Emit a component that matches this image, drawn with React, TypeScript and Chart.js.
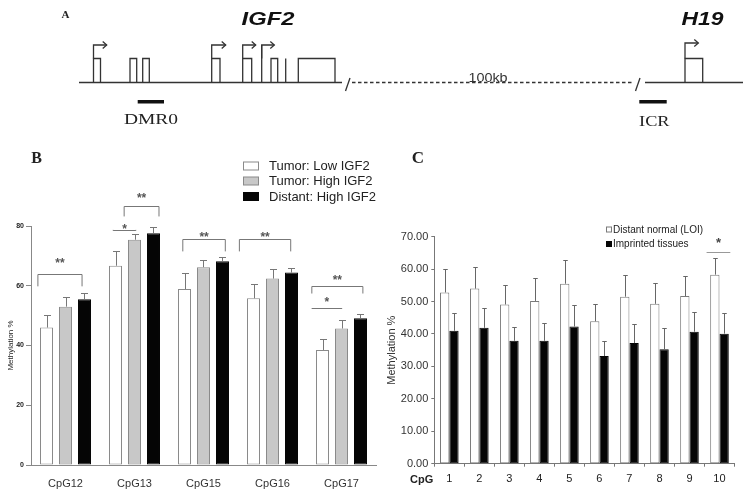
import React, { useEffect, useRef } from 'react';
import { Chart, registerables } from 'chart.js';
Chart.register(...registerables);

const SANS = 'Arial, "Liberation Sans", Helvetica, sans-serif';
const SERIF = '"Times New Roman", "Liberation Serif", serif';

// ---------- Panel B data ----------
const B_CATEGORIES = ['CpG12', 'CpG13', 'CpG15', 'CpG16', 'CpG17'];
const B_SERIES = ['Tumor: Low IGF2', 'Tumor: High IGF2', 'Distant: High IGF2'];
const B_LOW = [46.0, 66.7, 58.9, 55.8, 38.5];
const B_LOW_ERR = [4.3, 5.0, 5.3, 4.7, 3.6];
const B_HIGH = [53.0, 75.4, 66.2, 62.4, 45.7];
const B_HIGH_ERR = [3.3, 1.9, 2.3, 3.1, 2.7];
const B_DISTANT = [55.5, 77.6, 68.2, 64.4, 49.1];
const B_DISTANT_ERR = [2.2, 2.0, 1.5, 1.6, 1.5];
const B_Y_TICKS = [0, 20, 40, 60, 80];
// significance marks: category index, span (in category units), bracket top, leg end, label, label level
const B_SIG_CAT = [0, 1, 1, 2, 3, 4, 4];
const B_SIG_FROM = [-0.4, -0.31, -0.15, -0.3, -0.48, -0.43, -0.43];
const B_SIG_TO = [0.24, 0.02, 0.355, 0.316, 0.264, 0.31, 0.007];
const B_SIG_TOP = [63.9, 78.7, 86.8, 75.6, 75.6, 60.0, 52.5];
const B_SIG_LEG = [59.8, 78.7, 83.2, 71.5, 71.5, 57.4, 52.5];
const B_SIG_LABEL = ['**', '*', '**', '**', '**', '**', '*'];
const B_SIG_LABEL_Y = [68.5, 80.0, 90.2, 77.2, 77.2, 62.8, 55.4];

// ---------- Panel C data ----------
const C_CATEGORIES = ['1', '2', '3', '4', '5', '6', '7', '8', '9', '10'];
const C_SERIES = ['Distant normal (LOI)', 'Imprinted tissues'];
const C_LOI = [52.8, 54.0, 49.1, 50.2, 55.5, 43.9, 51.5, 49.3, 51.7, 58.3];
const C_LOI_ERR = [7.1, 6.7, 6.1, 7.1, 7.4, 5.5, 6.6, 6.3, 6.2, 5.0];
const C_IMPRINTED = [41.0, 41.9, 37.9, 37.9, 42.3, 33.2, 37.2, 35.3, 40.7, 40.1];
const C_IMPRINTED_ERR = [5.4, 6.2, 4.3, 5.6, 6.5, 4.5, 6.0, 6.4, 6.2, 6.5];
const C_Y_TICKS = [0, 10, 20, 30, 40, 50, 60, 70];
const C_SIG_CAT = [9];
const C_SIG_FROM = [-0.43];
const C_SIG_TO = [0.36];
const C_SIG_TOP = [65.4];
const C_SIG_LABEL = ['*'];
const C_SIG_LABEL_Y = [69.0];

function stretchedText(ctx: CanvasRenderingContext2D, text: string, cx: number, baseline: number, font: string, sx: number, color: string, align: CanvasTextAlign = 'center') {
  ctx.save();
  ctx.font = font;
  ctx.fillStyle = color;
  ctx.textAlign = align;
  ctx.textBaseline = 'alphabetic';
  ctx.translate(cx, baseline);
  ctx.scale(sx, 1);
  ctx.fillText(text, 0, 0);
  ctx.restore();
}

function drawDiagram(ctx: CanvasRenderingContext2D) {
  ctx.save();
  ctx.strokeStyle = '#333';
  ctx.lineWidth = 1.3;
  const base = 82.5, exTop = 58.5;
  const line = (x1: number, y1: number, x2: number, y2: number) => {
    ctx.beginPath(); ctx.moveTo(x1, y1); ctx.lineTo(x2, y2); ctx.stroke();
  };
  line(79, base, 342, base);
  line(345.5, 91, 350, 78);
  ctx.setLineDash([3.5, 2.5]);
  line(352, base, 633, base);
  ctx.setLineDash([]);
  line(635.5, 91, 640, 78);
  line(645, base, 743, base);
  const exons = [[93.5, 100.5], [130, 136.7], [142.7, 149.3], [211.7, 220], [242.7, 251.7], [271, 277.7], [298.3, 335], [685, 702.7]];
  exons.forEach(([a, b]) => {
    ctx.beginPath(); ctx.moveTo(a, base); ctx.lineTo(a, exTop); ctx.lineTo(b, exTop); ctx.lineTo(b, base); ctx.stroke();
  });
  line(285.7, exTop, 285.7, base);
  line(261.7, base, 261.7, 45);
  const arrows = [[93.5, 106.7, 45], [211.7, 225.7, 45], [242.7, 255.7, 45], [261.7, 274.3, 45], [685, 698.3, 43]];
  arrows.forEach(([x0, x1, y]) => {
    ctx.beginPath(); ctx.moveTo(x0, exTop); ctx.lineTo(x0, y); ctx.lineTo(x1, y); ctx.stroke();
    ctx.beginPath(); ctx.moveTo(x1 - 4, y - 3.5); ctx.lineTo(x1, y); ctx.lineTo(x1 - 4, y + 3.5); ctx.stroke();
  });
  ctx.fillStyle = '#111';
  ctx.fillRect(137.7, 100, 26.3, 3.5);
  ctx.fillRect(639.3, 100, 27.4, 3.5);
  ctx.restore();
  stretchedText(ctx, 'A', 61.5, 17.5, `bold 11px ${SERIF}`, 1, '#222', 'left');
  stretchedText(ctx, 'IGF2', 268, 25, `italic bold 19px ${SANS}`, 1.25, '#111');
  stretchedText(ctx, 'H19', 702.5, 25, `italic bold 19px ${SANS}`, 1.2, '#111');
  stretchedText(ctx, '100kb', 488, 81.5, `12px ${SANS}`, 1.2, '#333');
  stretchedText(ctx, 'DMR0', 151, 124, `15px ${SERIF}`, 1.3, '#222');
  stretchedText(ctx, 'ICR', 654.3, 125.5, `15px ${SERIF}`, 1.22, '#222');
}

const errorBarPlugin = {
  id: 'errorBars',
  afterDatasetsDraw(chart: any, _args: any, opts: any) {
    const ctx = chart.ctx;
    const y = chart.scales.y;
    const cap = opts.cap || 6;
    chart.data.datasets.forEach((ds: any, di: number) => {
      if (!ds.errors) return;
      const meta = chart.getDatasetMeta(di);
      meta.data.forEach((bar: any, i: number) => {
        const top = y.getPixelForValue(ds.data[i] + ds.errors[i]);
        const x = Math.round(bar.x) + 0.5;
        const t = Math.round(top) + 0.5;
        ctx.save();
        ctx.strokeStyle = ds.errorColor || '#777';
        ctx.lineWidth = 1;
        ctx.beginPath();
        ctx.moveTo(x, bar.y);
        ctx.lineTo(x, t);
        ctx.moveTo(x - cap / 2, t);
        ctx.lineTo(x + cap / 2, t);
        ctx.stroke();
        ctx.restore();
      });
    });
  },
};

function drawSig(chart: any, cats: number[], from: number[], to: number[], tops: number[], legs: number[] | null, labels: string[], labelYs: number[], font: string, color: string, lineColor: string) {
  const ctx = chart.ctx;
  const xs = chart.scales.x, ys = chart.scales.y;
  const cw = xs.getPixelForValue(1) - xs.getPixelForValue(0);
  const fontSize = parseFloat(font.match(/(\d+(\.\d+)?)px/)![1]);
  cats.forEach((c, i) => {
    const cx = xs.getPixelForValue(c);
    const x0 = cx + from[i] * cw, x1 = cx + to[i] * cw;
    const yt = Math.round(ys.getPixelForValue(tops[i])) + 0.5;
    const yl = legs ? ys.getPixelForValue(legs[i]) : yt;
    ctx.save();
    ctx.strokeStyle = lineColor;
    ctx.lineWidth = 1;
    ctx.beginPath();
    ctx.moveTo(x0, yl); ctx.lineTo(x0, yt); ctx.lineTo(x1, yt); ctx.lineTo(x1, yl);
    ctx.stroke();
    ctx.font = font;
    ctx.fillStyle = color;
    ctx.textAlign = 'center';
    ctx.textBaseline = 'alphabetic';
    ctx.fillText(labels[i], (x0 + x1) / 2, ys.getPixelForValue(labelYs[i]) + fontSize * 0.56);
    ctx.restore();
  });
}

const panelBPlugin = {
  id: 'panelB',
  afterDraw(chart: any) {
    const ctx = chart.ctx;
    drawDiagram(ctx);
    stretchedText(ctx, 'B', 31.3, 162.7, `bold 16px ${SERIF}`, 1, '#222', 'left');
    // legend
    const rows = [166, 181, 196.5];
    chart.data.datasets.forEach((ds: any, i: number) => {
      ctx.save();
      ctx.fillStyle = ds.backgroundColor;
      ctx.fillRect(243.5, rows[i] - 4, 15, 8);
      ctx.strokeStyle = ds.borderColor;
      ctx.lineWidth = 1;
      ctx.strokeRect(243.5, rows[i] - 4, 15, 8);
      ctx.font = `13px ${SANS}`;
      ctx.fillStyle = '#222';
      ctx.textAlign = 'left';
      ctx.textBaseline = 'middle';
      ctx.fillText(ds.label, 269, rows[i] + 0.5);
      ctx.restore();
    });
    drawSig(chart, B_SIG_CAT, B_SIG_FROM, B_SIG_TO, B_SIG_TOP, B_SIG_LEG, B_SIG_LABEL, B_SIG_LABEL_Y, `bold 12px ${SANS}`, '#555', '#777');
  },
};

const panelCPlugin = {
  id: 'panelC',
  afterDraw(chart: any) {
    const ctx = chart.ctx;
    stretchedText(ctx, 'C', 411.7, 163.3, `bold 17px ${SERIF}`, 1, '#222', 'left');
    const rows = [229.5, 244];
    chart.data.datasets.forEach((ds: any, i: number) => {
      ctx.save();
      ctx.fillStyle = ds.backgroundColor;
      ctx.fillRect(606.5, rows[i] - 2.5, 5, 5);
      ctx.strokeStyle = ds.borderColor;
      ctx.lineWidth = 1;
      ctx.strokeRect(606.5, rows[i] - 2.5, 5, 5);
      ctx.font = `10px ${SANS}`;
      ctx.fillStyle = '#222';
      ctx.textAlign = 'left';
      ctx.textBaseline = 'middle';
      ctx.fillText(ds.label, 613, rows[i] + 0.5);
      ctx.restore();
    });
    // "CpG" axis caption
    ctx.save();
    ctx.font = `bold 11px ${SANS}`;
    ctx.fillStyle = '#222';
    ctx.textAlign = 'center';
    ctx.textBaseline = 'middle';
    ctx.fillText('CpG', chart.chartArea.left - 12.6, chart.scales.x.top + 16.5);
    ctx.restore();
    drawSig(chart, C_SIG_CAT, C_SIG_FROM, C_SIG_TO, C_SIG_TOP, null, C_SIG_LABEL, C_SIG_LABEL_Y, `bold 13px ${SANS}`, '#444', '#999');
  },
};

export default function App() {
  const refB = useRef<HTMLCanvasElement>(null);
  const refC = useRef<HTMLCanvasElement>(null);

  useEffect(() => {
    const bBase = { borderWidth: 1, borderSkipped: false, categoryPercentage: 0.826, barPercentage: 0.684 };
    const chartB = new Chart(refB.current as HTMLCanvasElement, {
      type: 'bar',
      data: {
        labels: B_CATEGORIES,
        datasets: [
          { ...bBase, label: B_SERIES[0], data: B_LOW, errors: B_LOW_ERR, backgroundColor: '#ffffff', borderColor: '#8a8a8a', errorColor: '#777' } as any,
          { ...bBase, label: B_SERIES[1], data: B_HIGH, errors: B_HIGH_ERR, backgroundColor: '#c8c8c8', borderColor: '#8a8a8a', errorColor: '#777' } as any,
          { ...bBase, label: B_SERIES[2], data: B_DISTANT, errors: B_DISTANT_ERR, backgroundColor: '#050505', borderColor: '#050505', errorColor: '#777' } as any,
        ],
      },
      options: {
        responsive: false,
        animation: false,
        events: [],
        layout: { padding: { left: 0, top: 226, right: 374, bottom: 0 } },
        plugins: { legend: { display: false }, tooltip: { enabled: false }, errorBars: { cap: 7 } } as any,
        scales: {
          x: {
            grid: { display: false },
            border: { display: true, color: '#888', width: 1 },
            ticks: { font: { size: 11, family: SANS }, color: '#333', padding: 4.4, maxRotation: 0 },
            afterFit: (s: any) => { s.height = 25; },
          },
          y: {
            min: 0,
            max: 80,
            afterBuildTicks: (s: any) => { s.ticks = B_Y_TICKS.map((v) => ({ value: v })); },
            grid: { display: true, drawOnChartArea: false, drawTicks: true, tickLength: 5, color: '#888' },
            border: { display: true, color: '#888', width: 1 },
            ticks: { font: { size: 7, family: SANS, weight: 'bold' }, color: '#222', padding: 2 },
            title: { display: true, text: 'Methylation %', font: { size: 8, family: SANS }, color: '#222', padding: { top: 5.7, bottom: 0 } },
            afterFit: (s: any) => { s.width = 31; },
          },
        },
      } as any,
      plugins: [errorBarPlugin, panelBPlugin],
    });

    const cBase = { borderWidth: 1, borderSkipped: false, categoryPercentage: 0.62, barPercentage: 1.0 };
    const chartC = new Chart(refC.current as HTMLCanvasElement, {
      type: 'bar',
      data: {
        labels: C_CATEGORIES,
        datasets: [
          { ...cBase, label: C_SERIES[0], data: C_LOI, errors: C_LOI_ERR, backgroundColor: '#ffffff', borderColor: '#7a7a7a', errorColor: '#666' } as any,
          { ...cBase, label: C_SERIES[1], data: C_IMPRINTED, errors: C_IMPRINTED_ERR, backgroundColor: '#050505', borderColor: '#050505', errorColor: '#666' } as any,
        ],
      },
      options: {
        responsive: false,
        animation: false,
        events: [],
        layout: { padding: { left: 375, top: 236.7, right: 15.5, bottom: 0 } },
        plugins: { legend: { display: false }, tooltip: { enabled: false }, errorBars: { cap: 4.5 } } as any,
        scales: {
          x: {
            grid: { display: true, drawOnChartArea: false, drawTicks: true, tickLength: 3, color: '#777', offset: true },
            border: { display: true, color: '#777', width: 1 },
            ticks: { font: { size: 11, family: SANS }, color: '#222', padding: 5.5, maxRotation: 0 },
            afterFit: (s: any) => { s.height = 26.3; },
          },
          y: {
            min: 0,
            max: 70,
            afterBuildTicks: (s: any) => { s.ticks = C_Y_TICKS.map((v) => ({ value: v })); },
            grid: { display: true, drawOnChartArea: false, drawTicks: true, tickLength: 3, color: '#777' },
            border: { display: true, color: '#777', width: 1 },
            ticks: { font: { size: 11, family: SANS }, color: '#333', padding: 3, callback: (v: any) => Number(v).toFixed(2) },
            title: { display: true, text: 'Methylation %', font: { size: 11, family: SANS }, color: '#333', padding: { top: 10.4, bottom: 0 } },
            afterFit: (s: any) => { s.width = 59.3; },
          },
        },
      } as any,
      plugins: [errorBarPlugin, panelCPlugin],
    });

    return () => {
      chartB.destroy();
      chartC.destroy();
    };
  }, []);

  return (
    <div style={{ position: 'absolute', left: 0, top: 0, width: 750, height: 490, background: '#ffffff', overflow: 'hidden' }}>
      <canvas ref={refB} width={750} height={490} style={{ position: 'absolute', left: 0, top: 0 }} />
      <canvas ref={refC} width={750} height={490} style={{ position: 'absolute', left: 0, top: 0 }} />
    </div>
  );
}
